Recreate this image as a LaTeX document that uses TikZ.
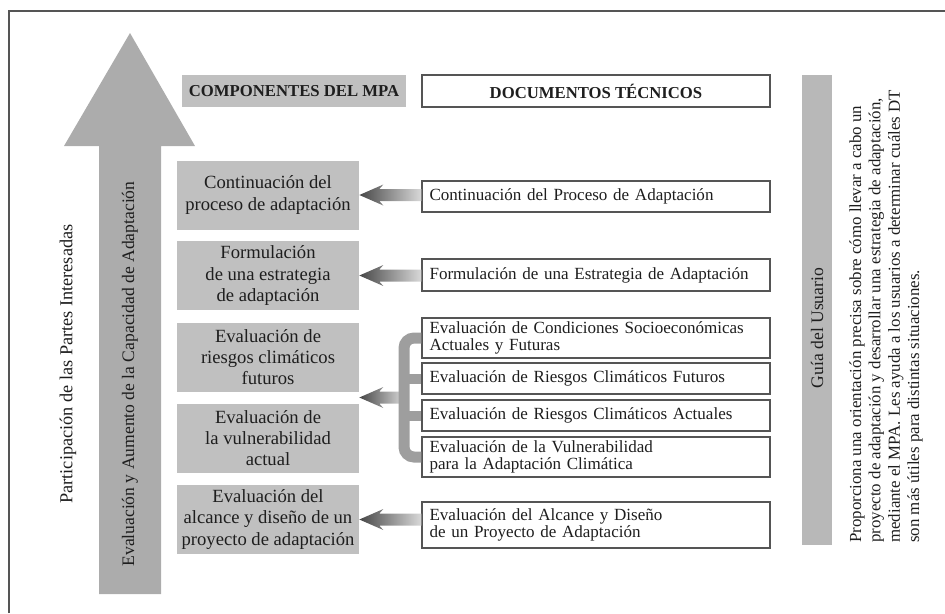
\documentclass[tikz,border=0pt]{standalone}
\usepackage{fontspec}
\setmainfont{Liberation Serif}
\usetikzlibrary{calc}
\definecolor{grisclaro}{RGB}{192,192,192}
\definecolor{grisflecha}{RGB}{172,172,172}
\definecolor{grisbarra}{RGB}{184,184,184}
\definecolor{borde}{RGB}{85,85,85}
\definecolor{texto}{RGB}{30,30,30}
% flecha sombreada: punta en #1, cola a la altura x de #2
\newcommand{\flecha}[2]{%
  \path (#1) ++(20,-6) coordinate (fa) ++(0,12) coordinate (fb);
  \shade [left color=black!72, right color=black!15]
    (#1) -- ++(24,-10.5) -- (fa) -- (fa -| #2) -- (fb -| #2) -- (fb) -- ($(#1)+(24,10.5)$) -- cycle;
}
\begin{document}
\begin{tikzpicture}[x=0.02cm,y=-0.02cm]
\tikzstyle{comp} = [fill=grisclaro, text=texto, minimum width=3.64cm, minimum height=1.38cm,
                    align=center, inner sep=0, font=\fontsize{10.6}{12}\selectfont]
\tikzstyle{doc} = [draw=borde, line width=0.8pt, fill=white, text=texto, minimum width=6.96cm,
                   text width=6.66cm, align=left, inner xsep=0.15cm, inner ysep=0,
                   font=\fontsize{9.7}{10}\selectfont]
\tikzstyle{vertical} = [rotate=90, text=texto, inner sep=0]
\useasboundingbox (0,0) rectangle (945,613);
\draw [borde, line width=1.4pt] (9,613) -- (9,11) -- (945,11);
% flecha grande
\fill [grisflecha] (99,594) -- (99,146) -- (64,146) -- (130,33) -- (195,146) -- (161,146) -- (161,594) -- cycle;
\node [vertical, font=\fontsize{10}{12}\selectfont] (t1) at (130,374) {Evaluación y Aumento de la Capacidad de Adaptación};
\node [vertical, font=\fontsize{10.4}{12}\selectfont] (t2) at (68,364) {Participación de las Partes Interesadas};
% encabezados
\node [fill=grisclaro, text=texto, minimum width=4.48cm, minimum height=0.64cm, inner sep=0,
       font=\bfseries\fontsize{9.5}{11}\selectfont] (h1) at (294,91) {COMPONENTES DEL MPA};
\node [draw=borde, line width=0.8pt, text=texto, minimum width=6.96cm, minimum height=0.64cm, inner sep=0,
       font=\bfseries\fontsize{9.5}{11}\selectfont] (h2) at (596,91) {DOCUMENTOS TÉCNICOS};
% componentes
\node [comp] (c1) at (268,195) {Continuación del\\proceso de adaptación};
\node [comp] (c2) at (268,275.5) {Formulación\\de una estrategia\\de adaptación};
\node [comp] (c3) at (268,357) {Evaluación de\\riesgos climáticos\\futuros};
\node [comp] (c4) at (268,438) {Evaluación de\\la vulnerabilidad\\actual};
\node [comp] (c5) at (268,519.5) {Evaluación del\\alcance y diseño de un\\proyecto de adaptación};
% documentos
\node [doc, minimum height=0.62cm] (d1) at (596,196.5) {Continuación del Proceso de Adaptación};
\node [doc, minimum height=0.64cm] (d2) at (596,275) {Formulación de una Estrategia de Adaptación};
\node [doc, minimum height=0.8cm] (d3) at (596,338) {Evaluación de Condiciones Socioeconómicas\\Actuales y Futuras};
\node [doc, minimum height=0.62cm] (d4) at (596,378.5) {Evaluación de Riesgos Climáticos Futuros};
\node [doc, minimum height=0.62cm] (d5) at (596,415.5) {Evaluación de Riesgos Climáticos Actuales};
\node [doc, minimum height=0.8cm] (d6) at (596,457) {Evaluación de la Vulnerabilidad\\para la Adaptación Climática};
\node [doc, minimum height=0.92cm] (d7) at (596,525) {Evaluación del Alcance y Diseño\\de un Proyecto de Adaptación};
% flechas
\flecha{c1.east}{d1.west}
\flecha{c2.east}{d2.west}
\flecha{c5.east}{d7.west}
\coordinate (llave) at (404,397);
\coordinate (m) at ($(c3.south east)!0.5!(c4.north east)$);
\flecha{m}{llave}
\draw [grisflecha!92!black, line width=0.22cm, rounded corners=0.2cm]
      (d3.west) -- (llave |- d3.west) -- (llave |- d6.west) -- (d6.west);
\draw [grisflecha!92!black, line width=0.2cm] (llave |- d4.west) -- (d4.west);
\draw [grisflecha!92!black, line width=0.2cm] (llave |- d5.west) -- (d5.west);
% guia del usuario
\node [fill=grisbarra, minimum width=0.6cm, minimum height=9.4cm, inner sep=0] (g) at (817,310) {};
\node [vertical, font=\fontsize{10}{12}\selectfont] (gt) at (817,328) {Guía del Usuario};
\node [vertical, anchor=west, align=left, font=\fontsize{9.6}{11}\selectfont] (p) at (886,543)
  {Proporciona una orientación precisa sobre cómo llevar a cabo un\\
   proyecto de adaptación y desarrollar una estrategia de adaptación,\\
   mediante el MPA. Les ayuda a los usuarios a determinar cuáles DT\\
   son más útiles para distintas situaciones.};
\end{tikzpicture}
\end{document}
